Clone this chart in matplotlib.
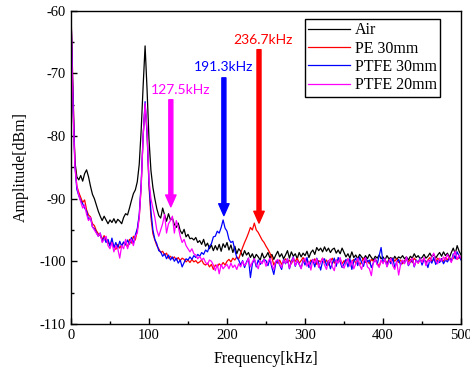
import numpy as np
import matplotlib
matplotlib.use("Agg")
import matplotlib.pyplot as plt
from matplotlib.ticker import MultipleLocator

# frequency axis, 2.5 kHz step (0 ~ 500 kHz)
freq = np.arange(0, 500.1, 2.5)

# Air
air = [
    -60, -75, -84, -86.5, -87, -86.3, -87.2, -86, -85.4, -86.5,
    -88, -89.3, -90, -91, -92, -92.8, -93.5, -92.8, -93.4, -94,
    -93.4, -93.8, -93.2, -93.9, -93.3, -93.6, -94, -93, -92.4, -92.6,
    -91.5, -90.3, -89.2, -88.6, -87.3, -84.5, -79, -72, -65.6, -72.5,
    -80.5, -85.5, -88.2, -90, -91.6, -92.7, -93.1, -91.5, -92.6, -93.6,
    -92.4, -93.4, -93.1, -94.1, -94.6, -93.9, -95.1, -95.6, -94.9, -96.1,
    -95.7, -96.4, -96.3, -96.6, -96.2, -97, -96.7, -97.3, -96.5, -97.6,
    -97.1, -98, -97.4, -98.3, -97.5, -98.2, -97.3, -98.4, -97.2, -97.8,
    -97, -98.2, -97.4, -98.6, -97.6, -98.8, -98, -98.4, -99.2, -98.3,
    -99, -98.6, -99.4, -98.8, -99.6, -98.9, -99.3, -99.8, -98.7, -99.5,
    -99.2, -98.6, -99.5, -98.9, -99.7, -99, -98.4, -99.3, -98.8, -99.6,
    -99, -98.3, -99.5, -98.5, -99.2, -98.8, -99.6, -98.6, -99.3, -98.7,
    -99.1, -98.4, -99.4, -98.6, -98.2, -98.9, -97.8, -98.3, -97.9, -98.5,
    -97.7, -98.4, -97.9, -98.6, -98.1, -97.9, -98.7, -98.2, -98.8, -97.9,
    -98.6, -99.3, -98.8, -99.5, -98.5, -99.4, -99, -99.6, -98.9, -99.3,
    -99.7, -99.1, -99.6, -98.9, -99.4, -99.8, -99.2, -99.5, -99, -99.6,
    -99.3, -99.8, -99.1, -99.6, -99.4, -99.9, -99.2, -99.7, -99.3, -99.5,
    -99.1, -99.6, -99.3, -99.8, -99.2, -99.5, -98.8, -99.4, -99.1, -99.6,
    -99.4, -98.9, -99.5, -99.2, -98.7, -99.3, -98.9, -99.5, -99, -98.6,
    -99.2, -98.5, -99.1, -98.7, -99.4, -98.6, -97.9, -98.8, -97.5, -98.4,
    -99]

# PE 30mm
pe30 = [
    -60, -72, -84, -88, -89, -89.8, -90.6, -90.2, -91.8, -92.6,
    -92.9, -94, -94.3, -95.1, -95.6, -95.9, -96.5, -95.9, -96.6, -97,
    -97.4, -96.8, -97.6, -98.1, -97.3, -97.9, -97.4, -97, -97.2, -97.7,
    -96.5, -97.1, -96, -96.6, -95, -93, -88, -80, -75, -79.5,
    -88, -93, -95.6, -96.6, -97.5, -98, -98.6, -98.4, -99, -98.7,
    -99.5, -99.2, -99.6, -99.3, -99.8, -99.4, -99.9, -99.5, -99.7, -100.1,
    -99.8, -100.2, -99.7, -100.1, -99.9, -100.3, -100.1, -99.8, -100.4, -100.6,
    -100.3, -100.9, -100.5, -101.3, -100.6, -100.9, -100.4, -100.7, -100.2, -100.6,
    -100, -99.7, -100.1, -99.5, -99.8, -99.3, -99.6, -98.7, -97.8, -97,
    -96.3, -95.5, -94.6, -95, -93.9, -95, -95.4, -96, -96.6, -97,
    -97.6, -98.1, -98.7, -99.4, -100.6, -100, -100.3, -99.8, -100.5, -100.1,
    -99.6, -100.2, -99.8, -100.4, -99.7, -100, -99.5, -100.3, -99.9, -99.4,
    -100.1, -99.7, -100.4, -99.8, -100.2, -99.6, -100.5, -99.9, -100.1, -99.5,
    -100.2, -99.8, -100.6, -100, -99.5, -100.3, -99.8, -100.1, -99.6, -100.4,
    -99.9, -100.2, -99.6, -100.5, -100, -99.7, -100.3, -99.8, -100.6, -100.1,
    -99.5, -100.2, -99.9, -100.4, -99.7, -100, -99.6, -100.3, -100.8, -99.9,
    -100.2, -99.8, -100.3, -99.7, -100.1, -99.5, -100, -99.6, -100.2, -99.8,
    -100.4, -99.9, -99.6, -100.1, -99.7, -100.2, -99.5, -99.9, -100.3, -99.7,
    -100, -99.6, -100.2, -99.8, -99.4, -100, -99.7, -100.1, -99.5, -99.9,
    -99.6, -100, -99.4, -99.8, -99.3, -99.9, -99.5, -99.2, -99.7, -99.4,
    -99.6]

# PTFE 30mm
ptfe30 = [
    -60, -73, -84.5, -88.5, -89.5, -90.3, -90.8, -91.5, -92, -93.3,
    -93, -94.5, -94.8, -95.4, -96, -95.5, -96.8, -96.2, -97, -96.5,
    -97.6, -96.3, -97.8, -97, -97.9, -96.8, -97.6, -96.9, -97.4, -96.6,
    -97.3, -96.2, -97.2, -95.8, -94.8, -92.5, -87.5, -80, -74.5, -79.5,
    -87.5, -92, -95, -96.5, -97.2, -98.3, -98.5, -99.2, -98.8, -99.6,
    -99, -99.8, -99.3, -100, -99.5, -100.3, -99.8, -100.9, -100.2, -99.6,
    -99.8, -99.3, -99.7, -99.1, -99.4, -98.9, -99.2, -98.6, -98.9, -98.2,
    -98.5, -97.6, -97.2, -96.1, -96, -95.2, -95.5, -94.6, -93.4, -94.7,
    -95.2, -96.5, -97, -96.8, -98.2, -99.4, -99.8, -100.6, -99.9, -101,
    -100.1, -99.5, -102.6, -100.4, -99.6, -100.9, -99.8, -100.5, -100.1, -99.7,
    -99.9, -100.7, -99.6, -101, -102.1, -100.3, -99.8, -100.6, -101.3, -99.7,
    -100.4, -99.6, -101.2, -100, -99.3, -100.8, -99.9, -100.5, -101.1, -99.8,
    -100.6, -99.4, -101, -100.2, -99.7, -100.9, -99.5, -100.3, -101.4, -100,
    -99.6, -100.7, -99.9, -101.2, -100.3, -99.5, -100.8, -99.4, -100.1, -101,
    -100.4, -99.7, -100.9, -99.6, -101.3, -100, -99.5, -100.7, -99.3, -100.2,
    -100.8, -99.4, -100.1, -99.8, -101, -100.3, -99.6, -100.5, -99.1, -97.8,
    -100.2, -99.6, -100.8, -99.8, -100.4, -99.5, -101, -100.1, -99.7, -100.6,
    -99.9, -100.3, -99.4, -100.7, -100.1, -99.6, -100.9, -99.8, -100.2, -99.5,
    -100.6, -99.7, -100.1, -101, -99.8, -100.3, -99.4, -100.5, -99.9, -100.2,
    -99.6, -100.4, -99.8, -100.1, -99.5, -100, -98.8, -99.6, -98.5, -99.2,
    -99.8]

# PTFE 20mm
ptfe20 = [
    -60, -75, -85, -88, -89.5, -90.5, -91.5, -91, -92.5, -93.5,
    -93, -94.5, -95, -95.5, -96, -95.5, -97, -96.5, -96, -97.5,
    -98, -97, -98.5, -97.5, -98, -99.5, -97.5, -98, -96.5, -98,
    -97, -96.5, -97.5, -96, -95.5, -93, -88, -80, -74.8, -79,
    -87, -90, -91.5, -93, -95, -96, -95, -94, -92.5, -95.5,
    -94, -93.5, -92.8, -95.5, -93.5, -94.5, -96, -97, -96.5, -97.5,
    -98, -98.5, -98, -98.8, -99, -99.6, -99.2, -99.8, -99.5, -100.2,
    -100.5, -99.8, -100, -100.6, -101.5, -100.5, -102, -100.5, -101.2, -100.8,
    -100.5, -101.2, -100.3, -101, -100.6, -101.3, -100.4, -100.9, -100, -100.7,
    -100.3, -99.5, -100.9, -100.1, -99.6, -100.5, -101.2, -99.9, -100.4, -99.7,
    -100.8, -100.1, -99.5, -100.6, -101.3, -100, -99.7, -100.5, -101, -99.8,
    -100.3, -99.6, -101.1, -100.2, -99.4, -100.7, -99.9, -100.4, -101.2, -100,
    -99.5, -100.8, -100.1, -101.4, -99.7, -100.3, -99.6, -101, -100.2, -99.5,
    -100.6, -101.3, -100, -99.6, -100.9, -101.5, -99.8, -100.3, -99.4, -100.7,
    -101.1, -100.2, -99.6, -100.8, -99.9, -101.2, -100.4, -99.5, -100.6, -101.3,
    -100, -99.4, -100.9, -101.2, -102.3, -100.2, -99.7, -100.5, -101, -99.8,
    -100.4, -99.6, -100.9, -100.1, -99.5, -100.7, -101.3, -100, -102.2, -100.5,
    -99.8, -100.4, -99.3, -100.6, -100, -99.5, -100.8, -99.9, -100.3, -99.6,
    -100.2, -99.4, -100.7, -99.8, -100.1, -99.3, -98.7, -99.9, -100.4, -99.5,
    -100, -99.3, -99.8, -98.9, -99.6, -100.2, -99.1, -98.4, -99.7, -99,
    -99.5]

labels = ["Air", "PE 30mm", "PTFE 30mm", "PTFE 20mm"]
colors = ["black", "red", "blue", "magenta"]

# peak markers : (label text, arrow x, arrow top, arrow tip, text x, text y, color)
peaks = [
    ("127.5kHz", 128, -74.2, -91.3, 140, -72.6, "magenta"),
    ("191.3kHz", 196, -70.7, -92.7, 195, -68.9, "blue"),
    ("236.7kHz", 241, -66.2, -93.9, 246, -64.6, "red"),
]

plt.rcParams["font.family"] = ["Liberation Serif", "DejaVu Serif"]
plt.rcParams["axes.unicode_minus"] = False

fig = plt.figure(figsize=(4.7, 3.74), dpi=100)
ax = fig.add_axes([0.151, 0.134, 0.830, 0.837])

for y, lab, c in zip([air, pe30, ptfe30, ptfe20], labels, colors):
    ax.plot(freq, y, color=c, lw=0.9, label=lab)

for txt, x, y0, y1, tx, ty, c in peaks:
    ax.annotate("", xy=(x, y1), xytext=(x, y0),
                arrowprops=dict(width=2.9, headwidth=7.5, headlength=8.5,
                                color=c, shrink=0))
    ax.text(tx, ty, txt, color=c, fontsize=10, family="Lato",
            ha="center", va="center")

ax.set_xlim(0, 500)
ax.set_ylim(-110, -60)
ax.xaxis.set_major_locator(MultipleLocator(100))
ax.xaxis.set_minor_locator(MultipleLocator(50))
ax.yaxis.set_major_locator(MultipleLocator(10))
ax.yaxis.set_minor_locator(MultipleLocator(5))
ax.tick_params(which="both", direction="in", labelsize=10.5)
ax.tick_params(which="major", length=4.5, width=1)
ax.tick_params(which="minor", length=2.5, width=1)
for s in ax.spines.values():
    s.set_linewidth(1)

ax.set_xlabel("Frequency[kHz]", fontsize=11.5, labelpad=7)
ax.set_ylabel("Amplitude[dBm]", fontsize=11.5, labelpad=8)

leg = ax.legend(loc="upper right", bbox_to_anchor=(0.946, 0.974), borderaxespad=0,
                fontsize=11.5, fancybox=False, edgecolor="black", framealpha=1,
                handlelength=2.6, handletextpad=0.3, labelspacing=0.15,
                borderpad=0.2)
leg.get_frame().set_linewidth(1)

fig.savefig("out.png", dpi=100)
